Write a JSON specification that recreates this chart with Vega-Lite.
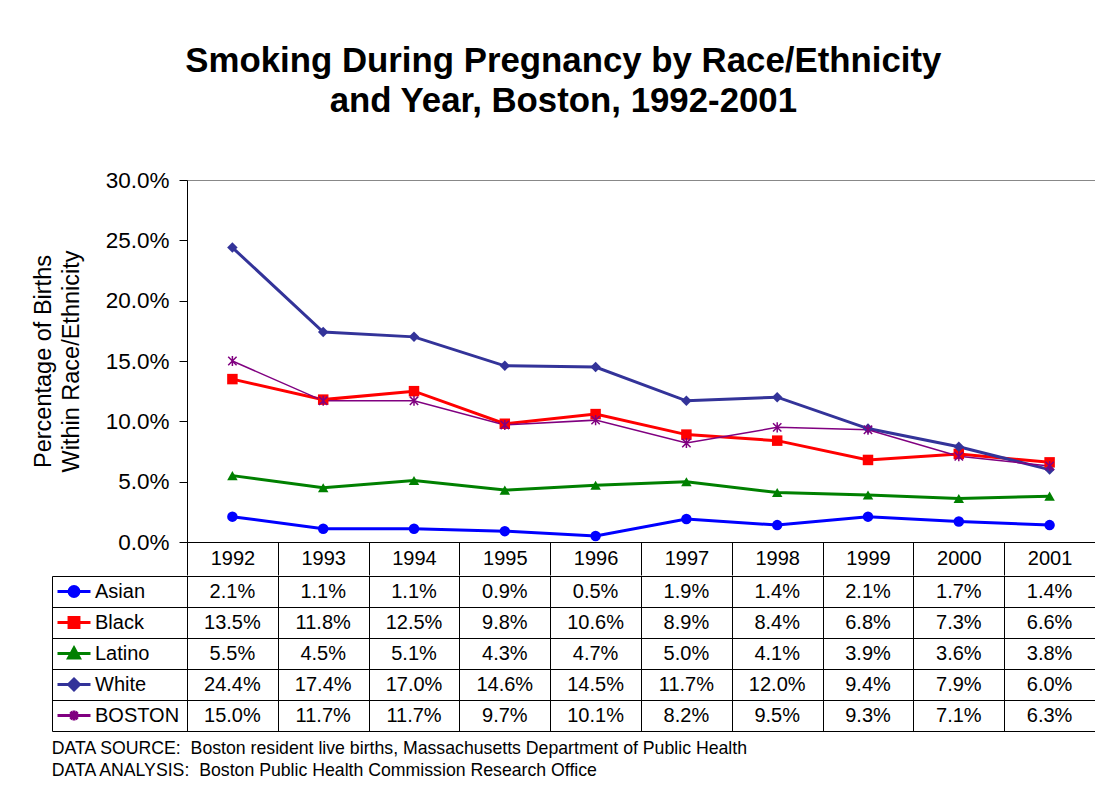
{
  "$schema": "https://vega.github.io/schema/vega-lite/v6.json",
  "padding": {"left": 30, "top": 43, "right": 0, "bottom": 0},
  "config": {
    "font": "Liberation Sans",
    "axis": {"labelFont": "Liberation Sans", "titleFont": "Liberation Sans", "labelColor": "#000", "titleColor": "#000"},
    "title": {"font": "Liberation Sans", "color": "#000"},
    "legend": {"labelFont": "Liberation Sans", "labelColor": "#000"}
  },
  "data": {"values": [
    {"year": "1992", "series": "Asian", "value": 0.021},
    {"year": "1993", "series": "Asian", "value": 0.011},
    {"year": "1994", "series": "Asian", "value": 0.011},
    {"year": "1995", "series": "Asian", "value": 0.009},
    {"year": "1996", "series": "Asian", "value": 0.005},
    {"year": "1997", "series": "Asian", "value": 0.019},
    {"year": "1998", "series": "Asian", "value": 0.014},
    {"year": "1999", "series": "Asian", "value": 0.021},
    {"year": "2000", "series": "Asian", "value": 0.017},
    {"year": "2001", "series": "Asian", "value": 0.014},
    {"year": "1992", "series": "Black", "value": 0.135},
    {"year": "1993", "series": "Black", "value": 0.118},
    {"year": "1994", "series": "Black", "value": 0.125},
    {"year": "1995", "series": "Black", "value": 0.098},
    {"year": "1996", "series": "Black", "value": 0.106},
    {"year": "1997", "series": "Black", "value": 0.089},
    {"year": "1998", "series": "Black", "value": 0.084},
    {"year": "1999", "series": "Black", "value": 0.068},
    {"year": "2000", "series": "Black", "value": 0.073},
    {"year": "2001", "series": "Black", "value": 0.066},
    {"year": "1992", "series": "Latino", "value": 0.055},
    {"year": "1993", "series": "Latino", "value": 0.045},
    {"year": "1994", "series": "Latino", "value": 0.051},
    {"year": "1995", "series": "Latino", "value": 0.043},
    {"year": "1996", "series": "Latino", "value": 0.047},
    {"year": "1997", "series": "Latino", "value": 0.050},
    {"year": "1998", "series": "Latino", "value": 0.041},
    {"year": "1999", "series": "Latino", "value": 0.039},
    {"year": "2000", "series": "Latino", "value": 0.036},
    {"year": "2001", "series": "Latino", "value": 0.038},
    {"year": "1992", "series": "White", "value": 0.244},
    {"year": "1993", "series": "White", "value": 0.174},
    {"year": "1994", "series": "White", "value": 0.170},
    {"year": "1995", "series": "White", "value": 0.146},
    {"year": "1996", "series": "White", "value": 0.145},
    {"year": "1997", "series": "White", "value": 0.117},
    {"year": "1998", "series": "White", "value": 0.120},
    {"year": "1999", "series": "White", "value": 0.094},
    {"year": "2000", "series": "White", "value": 0.079},
    {"year": "2001", "series": "White", "value": 0.060},
    {"year": "1992", "series": "BOSTON", "value": 0.150},
    {"year": "1993", "series": "BOSTON", "value": 0.117},
    {"year": "1994", "series": "BOSTON", "value": 0.117},
    {"year": "1995", "series": "BOSTON", "value": 0.097},
    {"year": "1996", "series": "BOSTON", "value": 0.101},
    {"year": "1997", "series": "BOSTON", "value": 0.082},
    {"year": "1998", "series": "BOSTON", "value": 0.095},
    {"year": "1999", "series": "BOSTON", "value": 0.093},
    {"year": "2000", "series": "BOSTON", "value": 0.071},
    {"year": "2001", "series": "BOSTON", "value": 0.063}
  ]},
  "title": {
    "text": ["DATA SOURCE:\u00a0 Boston resident live births, Massachusetts Department of Public Health", "DATA ANALYSIS:\u00a0 Boston Public Health Commission Research Office"],
    "orient": "bottom", "anchor": "start", "frame": "bounds", "fontSize": 17.7, "fontWeight": "normal", "lineHeight": 22, "offset": 8, "dx": 21
  },
  "spacing": -2,
  "resolve": {
    "scale": {"shape": "independent"},
    "legend": {"color": "independent", "stroke": "independent", "shape": "independent"}
  },
  "vconcat": [
    {
      "width": 908,
      "height": 362,
      "view": {"stroke": "#888888"},
      "title": {
        "text": ["Smoking During Pregnancy by Race/Ethnicity", "and Year, Boston, 1992-2001"],
        "fontSize": 34.8, "fontWeight": "bold", "lineHeight": 40, "anchor": "middle", "frame": "bounds", "offset": 49
      },
      "encoding": {
        "x": {
          "field": "year", "type": "ordinal",
          "scale": {"type": "band", "paddingInner": 0, "paddingOuter": 0},
          "axis": {"title": null, "tickBand": "extent", "tickSize": 33, "tickColor": "#000", "domainColor": "#000", "labelFontSize": 20, "labelBaseline": "middle", "labelPadding": -16.5, "labelAngle": 0, "grid": false}
        },
        "y": {
          "field": "value", "type": "quantitative",
          "scale": {"domain": [0, 0.3], "nice": false},
          "axis": {
            "title": ["Percentage of Births", "Within Race/Ethnicity"],
            "titleFontSize": 23.5, "titleFontWeight": "normal", "titleLineHeight": 28, "titlePadding": 22,
            "format": ".1%", "values": [0, 0.05, 0.1, 0.15, 0.2, 0.25, 0.3],
            "tickSize": 8, "labelPadding": 10, "labelFontSize": 22.5, "grid": false,
            "domainColor": "#000", "tickColor": "#000"
          }
        },
        "color": {
          "field": "series", "type": "nominal",
          "scale": {"domain": ["Asian", "Black", "Latino", "White", "BOSTON"], "range": ["#0000FF", "#FF0000", "#008000", "#333399", "#800080"]},
          "legend": null
        }
      },
      "layer": [
        {
          "transform": [{"filter": "datum.series !== 'BOSTON'"}],
          "mark": {"type": "line", "strokeWidth": 3}
        },
        {
          "transform": [{"filter": "datum.series === 'BOSTON'"}],
          "mark": {"type": "line", "strokeWidth": 1.5}
        },
        {
          "transform": [{"filter": "datum.series !== 'BOSTON'"}],
          "mark": {"type": "point", "filled": true, "opacity": 1, "size": 110},
          "encoding": {
            "shape": {
              "field": "series", "type": "nominal",
              "scale": {"domain": ["Asian", "Black", "Latino", "White"], "range": ["circle", "square", "triangle-up", "diamond"]},
              "legend": null
            }
          }
        },
        {
          "transform": [{"filter": "datum.series === 'BOSTON'"}],
          "mark": {"type": "point", "filled": false, "opacity": 1, "size": 70, "strokeWidth": 1.5, "shape": "M-1,-1L1,1M-1,1L1,-1M0,-1.2V1.2"}
        }
      ]
    },
    {
      "width": 908,
      "height": 155,
      "view": {"stroke": "#000"},
      "encoding": {
        "x": {
          "field": "year", "type": "ordinal",
          "scale": {"type": "band", "paddingInner": 0, "paddingOuter": 0},
          "axis": {"title": null, "labels": false, "ticks": false, "domain": false, "grid": true, "gridColor": "#000", "gridOpacity": 1, "tickBand": "extent"}
        },
        "y": {
          "field": "series", "type": "nominal",
          "sort": ["Asian", "Black", "Latino", "White", "BOSTON"],
          "scale": {"type": "band", "paddingInner": 0, "paddingOuter": 0},
          "axis": {"title": null, "labels": false, "offset": 135, "tickSize": -135, "tickBand": "extent", "tickColor": "#000", "domainColor": "#000", "grid": true, "gridColor": "#000", "gridOpacity": 1}
        }
      },
      "layer": [
        {
          "mark": {"type": "text", "fontSize": 20, "color": "#000", "font": "Liberation Sans"},
          "encoding": {"text": {"field": "value", "type": "quantitative", "format": ".1%"}}
        },
        {
          "mark": {"type": "point", "filled": true, "opacity": 0},
          "encoding": {
            "color": {"field": "series", "type": "nominal", "scale": {"domain": ["Asian", "Black", "Latino", "White", "BOSTON"], "range": ["#0000FF", "#FF0000", "#008000", "#333399", "#800080"]}},
            "stroke": {"field": "series", "type": "nominal", "scale": {"domain": ["Asian", "Black", "Latino", "White", "BOSTON"], "range": ["#0000FF", "#FF0000", "#008000", "#333399", "#800080"]}},
            "shape": {
              "field": "series", "type": "nominal",
              "scale": {"domain": ["Asian", "Black", "Latino", "White", "BOSTON"], "range": [
                "M-1,0H1M0.3,0A0.3,0.3,0,1,1,-0.3,0A0.3,0.3,0,1,1,0.3,0Z",
                "M-1,0H1M-0.3,-0.3H0.3V0.3H-0.3Z",
                "M-1,0H1M0,-0.33L0.33,0.27H-0.33Z",
                "M-1,0H1M0,-0.33L0.33,0L0,0.33L-0.33,0Z",
                "M-1,0H1M-0.22,-0.22L0.22,0.22M-0.22,0.22L0.22,-0.22M0,-0.3V0.3"
              ]},
              "legend": {
                "orient": "none", "legendX": -131, "legendY": 0, "direction": "vertical", "columns": 1,
                "title": null, "padding": 0, "rowPadding": 0, "clipHeight": 31,
                "symbolSize": 1089, "symbolOpacity": 1, "symbolStrokeWidth": 3,
                "labelFontSize": 20, "labelOffset": 3, "labelColor": "#000",
                "encode": {"symbols": {"update": {"strokeWidth": {"signal": "datum.value === 'BOSTON' ? 1.5 : 3"}}}}
              }
            }
          }
        }
      ]
    }
  ]
}
